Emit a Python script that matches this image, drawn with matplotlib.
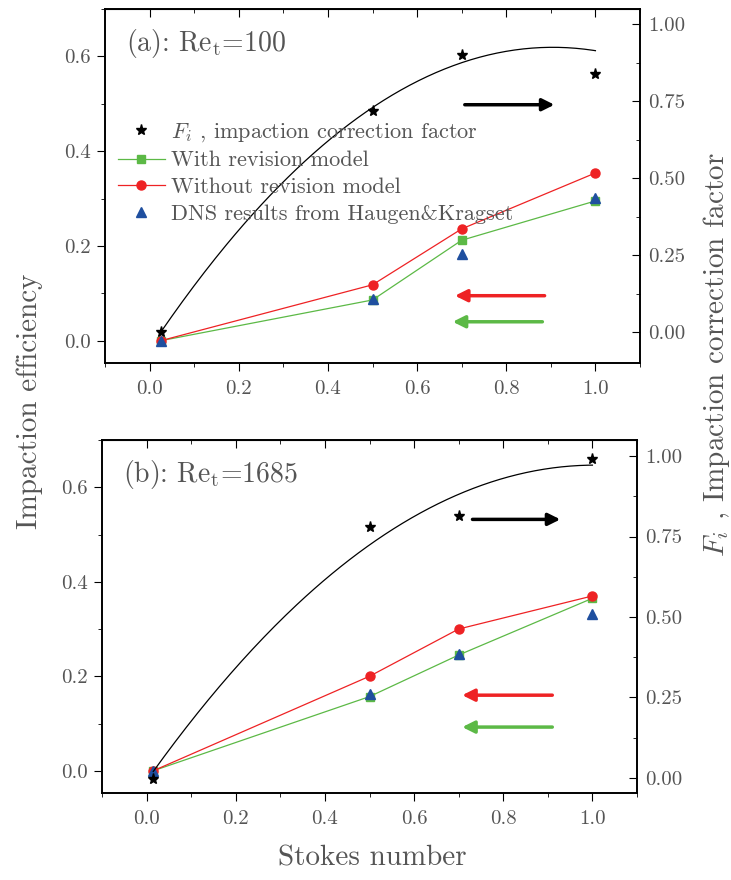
import matplotlib
matplotlib.use('Agg')
import matplotlib.pyplot as plt
import numpy as np
from matplotlib.ticker import MultipleLocator, FormatStrFormatter
from matplotlib.lines import Line2D

plt.rcParams['font.family'] = 'cmr10'
plt.rcParams['mathtext.fontset'] = 'cm'
plt.rcParams['axes.formatter.use_mathtext'] = True

# panel (a): Re_t = 100
stokes_a = [0.025, 0.5, 0.7, 1.0]
with_rev_a = [0.0, 0.086, 0.212, 0.295]
without_rev_a = [0.0, 0.118, 0.236, 0.354]
dns_a = [0.0, 0.088, 0.183, 0.302]
fi_a = [0.0, 0.72, 0.90, 0.84]
fit_a = [-1.197, 2.165, -0.0534]   # quadratic fit of F_i (x^2, x, 1)

# panel (b): Re_t = 1685
stokes_b = [0.015, 0.5, 0.7, 1.0]
with_rev_b = [0.0, 0.157, 0.245, 0.365]
without_rev_b = [0.0, 0.200, 0.300, 0.370]
dns_b = [0.0, 0.162, 0.248, 0.331]
fi_b = [-0.005, 0.78, 0.813, 0.99]
fit_b = [-0.970, 1.951, -0.0091]

GREEN = '#5cb946'
RED = '#ee2224'
BLUE = '#1f4f9f'
GREY = '#555555'

W, H = 731, 880
fig = plt.figure(figsize=(W / 100, H / 100), dpi=100)


def make_panel(rect, x, wr, wo, dns, fi, fit, label, r_ylim, arrows):
    l, t, r, b = rect
    ax = fig.add_axes([l / W, 1 - b / H, (r - l) / W, (b - t) / H])
    ax2 = ax.twinx()
    ax.plot(x, wr, '-s', color=GREEN, lw=0.9, ms=6, zorder=3)
    ax.plot(x, wo, '-o', color=RED, lw=0.9, ms=6.5, zorder=4)
    ax.plot(x, dns, '^', color=BLUE, ms=7.5, ls='none', zorder=5)
    xs = np.linspace(x[0], 1.0, 200)
    ax2.plot(xs, np.polyval(fit, xs), color='black', lw=0.9)
    ax2.plot(x, fi, '*', color='black', ms=8, ls='none')

    ax.set_xlim(-0.1, 1.1)
    ax.set_ylim(-0.047, 0.70)
    ax2.set_ylim(*r_ylim)
    ax.set_xticks([0.0, 0.2, 0.4, 0.6, 0.8, 1.0])
    ax.xaxis.set_minor_locator(MultipleLocator(0.1))
    ax.set_yticks([0.0, 0.2, 0.4, 0.6])
    ax.yaxis.set_minor_locator(MultipleLocator(0.1))
    ax2.set_yticks([0.0, 0.25, 0.5, 0.75, 1.0])
    ax2.yaxis.set_minor_locator(MultipleLocator(0.125))
    ax.xaxis.set_major_formatter(FormatStrFormatter('%.1f'))
    ax.yaxis.set_major_formatter(FormatStrFormatter('%.1f'))
    ax2.yaxis.set_major_formatter(FormatStrFormatter('%.2f'))

    ax.tick_params(axis='x', which='both', direction='out', top=False,
                   labelsize=15, labelcolor=GREY, pad=6)
    ax.tick_params(axis='x', which='major', length=6)
    ax.tick_params(axis='x', which='minor', length=3)
    ax.tick_params(axis='y', which='both', direction='out',
                   labelsize=15, labelcolor=GREY, pad=4)
    ax.tick_params(axis='y', which='major', length=6)
    ax.tick_params(axis='y', which='minor', length=3)
    ax2.tick_params(axis='y', which='both', direction='in',
                    labelsize=15, labelcolor=GREY, pad=6)
    ax2.tick_params(axis='y', which='major', length=6)
    ax2.tick_params(axis='y', which='minor', length=3)
    # inward ticks on top edge
    sec = ax.secondary_xaxis('top')
    sec.set_xticks([0.0, 0.2, 0.4, 0.6, 0.8, 1.0])
    sec.xaxis.set_minor_locator(MultipleLocator(0.1))
    sec.tick_params(which='both', direction='in', labeltop=False)
    sec.tick_params(which='major', length=6)
    sec.tick_params(which='minor', length=3)
    for a in (ax, ax2):
        for s in a.spines.values():
            s.set_linewidth(1.2)

    ax.text(0.04, 0.95, label, transform=ax.transAxes, fontsize=20,
            color=GREY, va='top', ha='left')

    for (x0, x1, y, c) in arrows:
        ax.annotate('', xy=(x1, y), xytext=(x0, y),
                    arrowprops=dict(arrowstyle='-|>', color=c, lw=2.5,
                                    mutation_scale=18, shrinkA=0, shrinkB=0),
                    zorder=6)
    return ax, ax2


ax_a, ax_a2 = make_panel((105, 9, 640, 363), stokes_a, with_rev_a, without_rev_a,
                         dns_a, fi_a, fit_a, r'(a): Re$_\mathrm{t}$=100', (-0.1, 1.05),
                         [(0.707, 0.908, 0.498, 'black'),
                          (0.886, 0.685, 0.095, RED),
                          (0.881, 0.680, 0.040, GREEN)])
ax_b, ax_b2 = make_panel((102, 440, 637, 793), stokes_b, with_rev_b, without_rev_b,
                         dns_b, fi_b, fit_b, r'(b): Re$_\mathrm{t}$=1685', (-0.047, 1.05),
                         [(0.731, 0.928, 0.532, 'black'),
                          (0.910, 0.708, 0.160, RED),
                          (0.910, 0.708, 0.0925, GREEN)])

handles = [
    Line2D([], [], marker='*', color='black', ls='none', ms=8),
    Line2D([], [], marker='s', color=GREEN, lw=0.9, ms=6),
    Line2D([], [], marker='o', color=RED, lw=0.9, ms=6.5),
    Line2D([], [], marker='^', color=BLUE, ls='none', ms=7.5),
]
labels = [r'$F_i$ , impaction correction factor', 'With revision model',
          'Without revision model', 'DNS results from Haugen&Kragset']
leg = ax_a2.legend(handles, labels, loc='upper left',
                   bbox_to_anchor=(118 / W, 1 - 121 / H),
                   bbox_transform=fig.transFigure, frameon=False, fontsize=16,
                   borderpad=0, borderaxespad=0, labelspacing=0.32,
                   handlelength=2.1, handletextpad=0.3)
for t in leg.get_texts():
    t.set_color(GREY)

fig.text(372 / W, 1 - 858 / H, 'Stokes number', fontsize=21, color=GREY,
         ha='center', va='center')
fig.text(30 / W, 1 - 401 / H, 'Impaction efficiency', fontsize=21, color=GREY,
         ha='center', va='center', rotation=90)
fig.text(716 / W, 1 - 355 / H, r'$F_i$ , Impaction correction factor', fontsize=21,
         color=GREY, ha='center', va='center', rotation=90)

fig.savefig('out.png', dpi=100)
